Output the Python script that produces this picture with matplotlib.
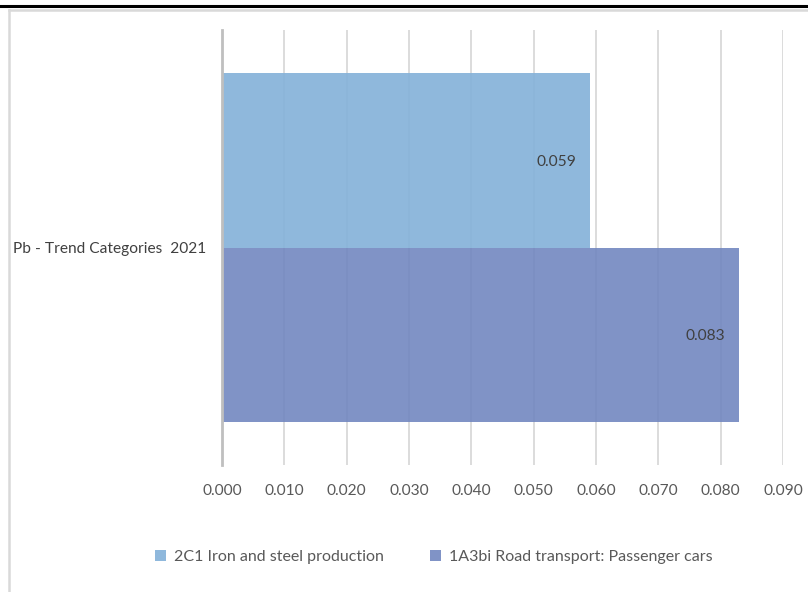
import matplotlib.pyplot as plt
from matplotlib.lines import Line2D

# ===== ДАННЫЕ =====
category = "Pb - Trend Categories  2021"
series_names = ["2C1 Iron and steel production", "1A3bi Road transport: Passenger cars"]
series_values = [0.059, 0.083]
series_colors = ["#83B1D9", "#7287C0"]
xticks = [0.00, 0.01, 0.02, 0.03, 0.04, 0.05, 0.06, 0.07, 0.08, 0.09]

plt.rcParams['font.family'] = ['Lato', 'DejaVu Sans']
TEXT_COLOR = "#595959"
FS = 11.2

fig = plt.figure(figsize=(8.08, 5.92), dpi=100)
ax = fig.add_axes([222 / 808, 1 - 465 / 592, (783 - 222) / 808, (465 - 30) / 592])

bar_h = 0.402
# первая серия сверху, вторая снизу от центра категории
offsets = [bar_h / 2, -bar_h / 2]
for name, val, col, off in zip(series_names, series_values, series_colors, offsets):
    ax.barh(off, val, height=bar_h, color=col, alpha=0.9, label=name, zorder=2)
    ax.annotate(f"{val:.3f}", xy=(val, off), xytext=(-10, 0), textcoords="offset points",
                ha="right", va="center_baseline", fontsize=FS, color="#404040", zorder=3)

ax.set_xlim(0, 0.09)
ax.set_ylim(-0.5, 0.5)
ax.set_xticks(xticks)
ax.set_xticklabels([f"{t:.3f}" for t in xticks], fontsize=FS, color=TEXT_COLOR)
ax.set_yticks([0])
ax.set_yticklabels([category], fontsize=FS, color="#404040")
ax.tick_params(axis="both", length=0)
ax.tick_params(axis="x", pad=14)
ax.tick_params(axis="y", pad=11)

ax.grid(axis="x", color="#D9D9D9", linewidth=1.3, zorder=0)
ax.set_axisbelow(True)
for s in ["top", "right", "bottom"]:
    ax.spines[s].set_visible(False)
ax.spines["left"].set_color("#BFBFBF")
ax.spines["left"].set_linewidth(2)
ax.spines["left"].set_zorder(4)

# рамка и линия сверху
fig.add_artist(Line2D([0, 1], [1 - 5.5 / 592] * 2, color="black", linewidth=2.2))
fig.add_artist(Line2D([9 / 808, 1], [1 - 10 / 592] * 2, color="#D9D9D9", linewidth=1.8))
fig.add_artist(Line2D([9 / 808, 9 / 808], [0, 1 - 10 / 592], color="#D9D9D9", linewidth=1.8))

fig.legend(loc="center", bbox_to_anchor=(0.537, 1 - 557 / 592), ncol=2, frameon=False,
           fontsize=11.5, handlelength=0.7, handleheight=0.7, handletextpad=0.5,
           columnspacing=2.9, labelcolor=TEXT_COLOR)

fig.savefig("out.png", dpi=100)
